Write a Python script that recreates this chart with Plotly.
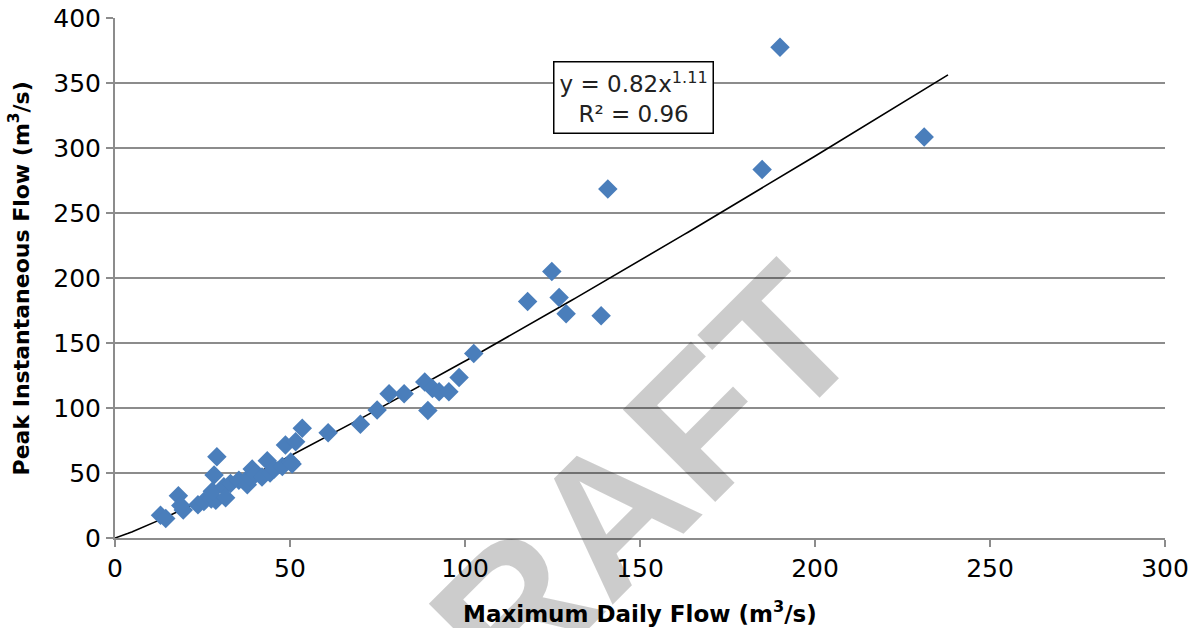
import numpy as np
import plotly.graph_objects as go

max_daily_flow = [13.0, 14.5, 18.1, 19.5, 18.8, 23.7, 25.4, 27.5, 28.8, 29.1,
                  28.3, 27.8, 31.1, 31.6, 33.0, 35.4, 37.8, 38.3, 39.2, 40.1,
                  42.0, 43.5, 44.3, 45.5, 47.8, 48.7, 50.2, 51.6, 50.6, 53.5,
                  60.9, 70.1, 74.9, 78.3, 82.6, 88.5, 90.7, 89.4, 92.6, 95.4,
                  98.3, 102.5, 117.9, 124.8, 126.9, 128.9, 138.9, 140.8, 184.9,
                  190.0, 231.2]
peak_inst_flow = [17.5, 15.0, 32.5, 21.5, 25.0, 25.5, 28.0, 30.0, 29.0, 62.5,
                  48.5, 36.0, 39.5, 31.0, 42.0, 44.5, 41.0, 47.0, 53.0, 49.0,
                  47.0, 59.5, 50.0, 53.0, 55.0, 71.5, 58.5, 74.0, 57.0, 84.5,
                  81.0, 87.5, 98.5, 111.0, 111.0, 120.0, 115.0, 98.0, 112.5, 112.5,
                  123.5, 142.0, 182.0, 205.0, 185.0, 172.5, 171.0, 268.5, 283.5,
                  377.5, 308.5]

# Power trendline as shown on the chart
TREND_A = 0.82
TREND_B = 1.11
TREND_XMAX = 238.0
R2 = 0.96

x_ticks = [0, 50, 100, 150, 200, 250, 300]
y_ticks = [0, 50, 100, 150, 200, 250, 300, 350, 400]

x_title = "Maximum Daily Flow (m<sup>3</sup>/s)"
y_title = "Peak Instantaneous Flow (m<sup>3</sup>/s)"

trend_x = np.linspace(0, TREND_XMAX, 200)
trend_y = TREND_A * trend_x ** TREND_B

GRID = "#8c8c8c"
FONT = "DejaVu Sans"

fig = go.Figure()
fig.add_trace(go.Scatter(
    x=trend_x, y=trend_y, mode="lines",
    line=dict(color="black", width=1.6),
    hoverinfo="skip", showlegend=False))
fig.add_trace(go.Scatter(
    x=max_daily_flow, y=peak_inst_flow, mode="markers",
    marker=dict(symbol="diamond", size=15, color="#4a7ebb", line=dict(width=0)),
    showlegend=False))

# DRAFT watermark (translucent so gridlines and labels show through)
fig.add_annotation(
    x=0.458, y=0.02, xref="paper", yref="paper", text="<b>DRAFT</b>", showarrow=False,
    textangle=-45, font=dict(family="Liberation Sans", size=190, color="rgba(0,0,0,0.2)"),
    xanchor="center", yanchor="middle")

# axis titles
fig.add_annotation(
    x=0.5, y=-0.143, xref="paper", yref="paper", text=f"<b>{x_title}</b>",
    showarrow=False, font=dict(family=FONT, size=23, color="black"),
    xanchor="center", yanchor="middle")
fig.add_annotation(
    x=-0.091, y=0.5, xref="paper", yref="paper", text=f"<b>{y_title}</b>",
    showarrow=False, textangle=-90, font=dict(family=FONT, size=22, color="black"),
    xanchor="center", yanchor="middle")

# Equation box
fig.add_annotation(
    x=148.1, y=338.8, xref="x", yref="y",
    text=f"y = {TREND_A}x<sup>{TREND_B}</sup><br>R² = {R2}",
    showarrow=False, align="center",
    font=dict(family=FONT, size=23, color="#222222"),
    bgcolor="white", bordercolor="black", borderwidth=1.5, borderpad=5,
    xanchor="center", yanchor="middle")

fig.update_layout(
    width=1198, height=628,
    margin=dict(l=115, r=33, t=18, b=90),
    paper_bgcolor="white", plot_bgcolor="white",
    font=dict(family=FONT, color="black"),
    xaxis=dict(
        range=[0, 300], tickvals=x_ticks, ticktext=[str(v) for v in x_ticks],
        showgrid=False, zeroline=False, automargin=False,
        showline=True, linecolor=GRID, linewidth=2,
        ticks="outside", ticklen=7, tickcolor=GRID, tickwidth=2,
        tickfont=dict(family=FONT, size=25, color="black"),
    ),
    yaxis=dict(
        range=[0, 400], tickvals=y_ticks, ticktext=[str(v) for v in y_ticks],
        showgrid=True, gridcolor=GRID, gridwidth=2, zeroline=False, automargin=False,
        showline=True, linecolor=GRID, linewidth=2,
        ticks="outside", ticklen=7, tickcolor=GRID, tickwidth=2,
        tickfont=dict(family=FONT, size=25, color="black"),
    ),
)

fig.write_html("out.html")
